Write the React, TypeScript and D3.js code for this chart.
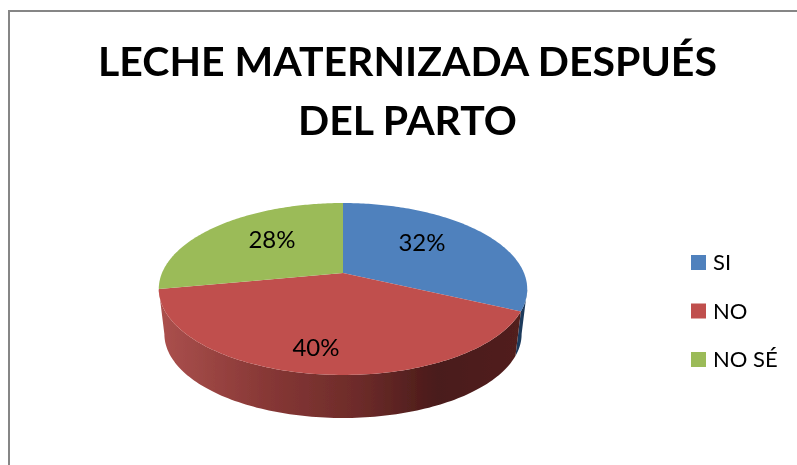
import React from "react";
import * as d3 from "d3";

const categories = ["SI", "NO", "NO SÉ"];
const values = [32, 40, 28];
const colors = ["#4f81bd", "#c0504d", "#9bbb59"];
const titleLines = ["LECHE MATERNIZADA DESPUÉS", "DEL PARTO"];
const labelPos = [[422, 243], [316, 348], [272, 240]];
const font = "Lato, 'Open Sans', sans-serif";

const cx = 343;
const cy = 273;
const K = 0.186;
const project = (theta: number, r: number, ry: number, dy: number): [number, number] => {
  const x = Math.sin(theta);
  const y = -Math.cos(theta);
  const d = 1 - K * y;
  return [cx + (r * x) / d, cy + dy + (ry * y) / d];
};
const topPt = (t: number) => project(t, 181, 83, 0);
const botPt = (t: number) => project(t, 175.5, 81, 45.5);
const line = d3.line();

export default function App() {
  const arcs = d3.pie<number>().sort(null)(values);
  const samples = (a: number, b: number) => d3.range(0, 121).map((i) => a + ((b - a) * i) / 120);
  const slicePath = (a: number, b: number) =>
    line([[cx, cy], ...samples(a, b).map(topPt)]) + "Z";
  const wallPath = (a: number, b: number) =>
    line([...samples(a, b).map(topPt), ...samples(b, a).map(botPt)]) + "Z";

  const rimRight = Math.PI / 2 + Math.asin(K);
  const rimLeft = (3 * Math.PI) / 2 - Math.asin(K);
  const [blue, red] = arcs;

  return (
    <svg width={797} height={465} style={{ position: "absolute", left: 0, top: 0, background: "#fff" }}>
      <defs>
        <linearGradient id="wall" gradientUnits="userSpaceOnUse" x1={160} y1={0} x2={525} y2={0}>
          <stop offset="0" stopColor="#ab504d" />
          <stop offset="0.3" stopColor="#863735" />
          <stop offset="0.55" stopColor="#6c2b29" />
          <stop offset="0.76" stopColor="#4a1b1a" />
          <stop offset="1" stopColor="#52201f" />
        </linearGradient>
        <filter id="soft" x="-5%" y="-5%" width="110%" height="110%">
          <feGaussianBlur stdDeviation="0.45" />
        </filter>
      </defs>
      <path d="M9,465V11H797" fill="none" stroke="#868686" strokeWidth={2} />
      <g filter="url(#soft)">
        {titleLines.map((t, i) => (
          <text key={t} x={407.5} y={76 + i * 59} textAnchor="middle" fontFamily={font} fontWeight={700}
            fontSize={41} fill="#000">{t}</text>
        ))}
        <path d={wallPath(rimRight, blue.endAngle)} fill="#1f3a5c" />
        <path d={wallPath(red.startAngle, Math.min(red.endAngle, rimLeft))} fill="url(#wall)" />
        {arcs.map((a, i) => (
          <path key={categories[i]} d={slicePath(a.startAngle, a.endAngle)} fill={colors[i]} />
        ))}
        {values.map((v, i) => (
          <text key={categories[i]} x={labelPos[i][0]} y={labelPos[i][1] + 8} textAnchor="middle"
            fontFamily={font} fontSize={24} fill="#000">{v}%</text>
        ))}
        {categories.map((c, i) => {
          const y = d3.scalePoint<number>().domain([0, 1, 2]).range([255, 352])(i) as number;
          return (
            <g key={c}>
              <rect x={691} y={y} width={15} height={15} fill={colors[i]} />
              <text x={713} y={y + 15} fontFamily={font} fontSize={22} fill="#000">{c}</text>
            </g>
          );
        })}
      </g>
    </svg>
  );
}
